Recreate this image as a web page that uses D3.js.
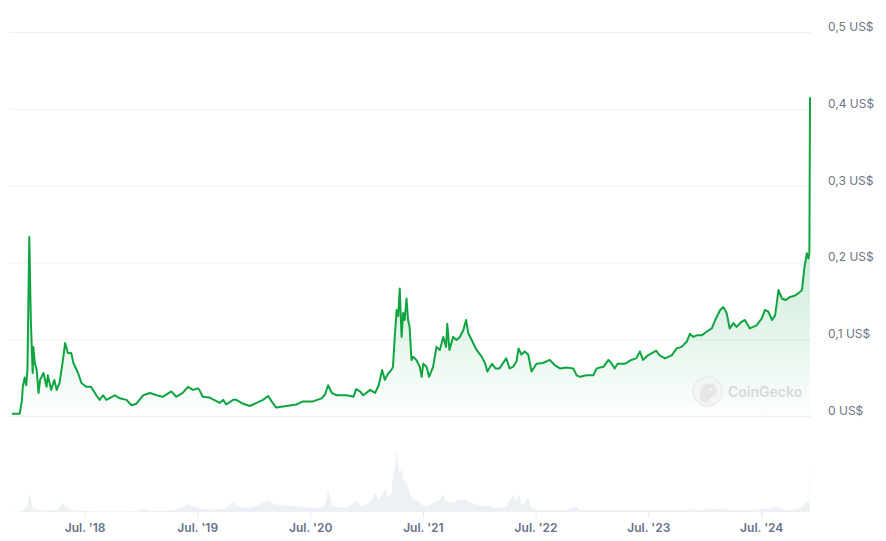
<!DOCTYPE html>
<html><head><meta charset="utf-8">
<script src="https://cdn.jsdelivr.net/npm/d3@7"></script>
<style>html,body{margin:0;padding:0;background:#fff;}svg{display:block;font-family:Inter,"Noto Sans",sans-serif;}</style>
</head><body><svg id="chart" width="886" height="541"></svg>
<script>
const dates = [
"2017-11-08","2017-12-03","2017-12-10","2017-12-13","2017-12-19","2017-12-24","2017-12-28",
"2018-01-03","2018-01-08","2018-01-14","2018-01-16","2018-01-21","2018-01-27","2018-02-02","2018-02-07","2018-02-18","2018-02-28",
"2018-03-04","2018-03-15","2018-03-25","2018-04-02","2018-04-11","2018-04-22","2018-04-29","2018-05-08","2018-05-19","2018-05-26",
"2018-06-10","2018-06-21","2018-07-06","2018-07-22","2018-08-08","2018-08-19","2018-08-30","2018-09-10","2018-10-07","2018-10-23",
"2018-11-14","2018-11-30","2018-12-16",
"2019-01-07","2019-01-29","2019-02-20","2019-03-11","2019-04-08","2019-04-24","2019-05-15","2019-06-01","2019-06-17","2019-07-03",
"2019-07-08","2019-07-19","2019-08-10","2019-09-12","2019-09-23","2019-10-03","2019-10-25","2019-11-05","2019-11-21","2019-12-18",
"2020-01-09","2020-01-30","2020-02-16","2020-02-27","2020-03-13","2020-04-15","2020-05-17","2020-06-08","2020-07-10","2020-08-07",
"2020-08-18","2020-08-28","2020-09-09","2020-09-25","2020-10-27","2020-11-18","2020-11-27","2020-12-09","2020-12-20",
"2021-01-11","2021-01-27","2021-02-08","2021-02-19","2021-02-28","2021-03-10","2021-03-21","2021-03-26","2021-04-01","2021-04-07",
"2021-04-12","2021-04-17","2021-04-23","2021-04-28","2021-05-03","2021-05-09","2021-05-14","2021-05-19","2021-05-25","2021-05-30",
"2021-06-10","2021-06-21","2021-06-27","2021-07-02","2021-07-13","2021-07-21","2021-08-03","2021-08-14","2021-08-25","2021-09-05",
"2021-09-14","2021-09-18","2021-09-25","2021-10-07","2021-10-18","2021-10-29","2021-11-09","2021-11-18","2021-11-25","2021-12-06",
"2021-12-22",
"2022-01-08","2022-01-19","2022-01-26","2022-02-10","2022-02-21","2022-03-06","2022-03-28","2022-04-08","2022-04-19","2022-04-30",
"2022-05-07","2022-05-16","2022-05-27","2022-06-07","2022-06-18","2022-07-04","2022-07-25","2022-08-16","2022-09-02","2022-09-18",
"2022-10-10","2022-10-31","2022-11-11","2022-11-22","2022-12-13",
"2023-01-04","2023-01-15","2023-02-06","2023-02-22","2023-03-03","2023-03-14","2023-03-24","2023-04-16","2023-05-07","2023-05-23",
"2023-06-04","2023-06-14","2023-06-30","2023-07-27","2023-08-07","2023-08-24","2023-09-15","2023-10-01","2023-10-17","2023-11-03",
"2023-11-13","2023-11-24","2023-12-05","2023-12-21",
"2024-01-07","2024-01-23","2024-02-03","2024-02-19","2024-02-29","2024-03-11","2024-03-21","2024-04-02","2024-04-12","2024-04-29",
"2024-05-09","2024-05-25","2024-06-16","2024-07-03","2024-07-13","2024-07-24","2024-08-05","2024-08-15","2024-08-26","2024-09-06",
"2024-09-17","2024-10-03","2024-10-19","2024-10-30","2024-11-10","2024-11-18","2024-11-26","2024-12-01","2024-12-04","2024-12-06"
];
const prices = [
0.003,0.003,0.02,0.038,0.05,0.04,0.06,
0.233,0.125,0.056,0.09,0.069,0.06,0.03,0.047,0.056,0.038,
0.053,0.034,0.047,0.034,0.043,0.073,0.095,0.082,0.082,0.069,
0.056,0.043,0.038,0.038,0.027,0.021,0.027,0.021,0.027,0.023,
0.021,0.014,0.016,
0.027,0.030,0.027,0.025,0.032,0.025,0.030,0.038,0.034,0.036,
0.034,0.025,0.024,0.017,0.021,0.015,0.021,0.021,0.017,0.013,
0.017,0.021,0.026,0.019,0.011,0.013,0.015,0.019,0.019,0.023,
0.028,0.040,0.030,0.027,0.027,0.025,0.035,0.032,0.027,
0.034,0.030,0.040,0.060,0.047,0.055,0.060,0.064,0.103,0.138,
0.130,0.166,0.103,0.134,0.125,0.153,0.125,0.116,0.073,0.077,
0.073,0.064,0.051,0.068,0.064,0.051,0.064,0.090,0.086,0.103,
0.090,0.120,0.086,0.103,0.099,0.103,0.112,0.125,0.108,0.099,
0.086,
0.077,0.068,0.058,0.068,0.062,0.062,0.075,0.062,0.064,0.071,
0.088,0.080,0.084,0.080,0.058,0.068,0.069,0.073,0.066,0.062,
0.063,0.062,0.053,0.051,0.053,
0.053,0.062,0.064,0.073,0.069,0.062,0.068,0.068,0.073,0.075,
0.084,0.073,0.079,0.085,0.079,0.075,0.079,0.088,0.090,0.097,
0.107,0.103,0.105,0.105,
0.110,0.114,0.125,0.138,0.142,0.134,0.114,0.121,0.116,0.123,
0.125,0.114,0.118,0.127,0.138,0.136,0.125,0.131,0.164,0.153,
0.151,0.155,0.157,0.160,0.164,0.194,0.212,0.205,0.212,0.415
];
const volumes = [
0.05,0.1,0.2,0.3,0.5,0.6,0.8,
3.0,2.0,0.7,0.6,0.5,0.4,0.3,0.3,0.3,0.2,
0.3,0.3,0.3,0.4,0.7,1.5,1.0,0.6,0.4,0.3,
0.2,0.2,0.15,0.15,0.1,0.1,0.1,0.1,0.1,0.1,
0.1,0.1,0.2,
0.5,0.2,0.2,0.2,0.3,0.4,0.8,1.2,0.9,0.8,
0.6,0.5,0.4,0.5,0.5,0.6,1.6,1.0,0.8,0.7,
1.0,1.5,1.9,1.5,1.2,1.0,1.0,0.8,0.6,0.7,
1.2,3.5,1.0,0.8,0.7,1.5,1.9,1.0,0.9,
1.6,3.0,2.0,2.8,3.8,2.5,3.0,5.7,7.0,10.0,
7.9,6.2,7.0,5.0,5.2,4.5,4.0,3.0,2.4,2.0,
1.9,1.6,1.2,1.0,0.9,1.0,1.5,1.8,1.9,3.0,
1.6,2.0,1.5,1.6,1.8,1.9,1.9,2.1,1.6,1.4,
1.2,
1.0,0.9,1.0,0.8,0.7,0.7,0.8,1.8,2.7,1.5,
3.2,1.2,1.5,2.4,0.6,0.4,0.3,0.3,0.3,0.3,
0.4,0.6,0.9,0.3,0.3,
0.3,0.4,0.3,0.3,0.3,0.3,0.3,0.4,0.3,0.3,
0.3,0.3,0.4,0.3,0.3,0.3,0.3,0.3,0.3,0.4,
0.4,0.4,0.3,0.3,
0.4,0.5,0.4,0.5,0.6,0.4,0.3,0.3,0.3,0.4,
0.3,0.3,0.4,0.5,0.6,0.5,0.7,1.0,0.8,0.4,
0.4,0.3,0.4,0.5,0.9,1.3,1.9,1.5,1.6,8.6
];
const priceTicks = [0, 0.1, 0.2, 0.3, 0.4, 0.5];
const xTickDates = ["2018-07-01","2019-07-01","2020-07-01","2021-07-01","2022-07-01","2023-07-01","2024-07-01"];
const watermarkText = "CoinGecko";

const parse = d3.timeParse("%Y-%m-%d");
const data = dates.map((d, i) => ({date: parse(d), price: prices[i], volume: volumes[i]}));

const x = d3.scaleTime().domain(d3.extent(data, d => d.date)).range([12, 810]);
const y = d3.scaleLinear().domain([0, 0.5]).range([416, 32]);
const yv = d3.scaleLinear().domain([0, 10]).range([512, 450]);

const svg = d3.select("#chart");
svg.append("rect").attr("width", 886).attr("height", 541).attr("fill", "#fff");

const locale = d3.formatLocale({decimal: ",", thousands: ".", grouping: [3], currency: ["", " US$"]});
const f1 = locale.format(".1f");
const fmtPrice = d => (d === 0 ? "0" : f1(d)) + " US$";

// gradient
const defs = svg.append("defs");
const grad = defs.append("linearGradient").attr("id", "pg")
  .attr("gradientUnits", "userSpaceOnUse")
  .attr("x1", 0).attr("x2", 0).attr("y1", y(0.2)).attr("y2", y(0));
grad.append("stop").attr("offset", 0).attr("stop-color", "#16a34a").attr("stop-opacity", 0.2);
grad.append("stop").attr("offset", 1).attr("stop-color", "#16a34a").attr("stop-opacity", 0.01);

// grid + y labels
const gy = svg.append("g").attr("transform", "translate(10,0)")
  .call(d3.axisRight(y).tickValues(priceTicks).tickSize(801).tickPadding(17).tickFormat(fmtPrice));
gy.select(".domain").remove();
gy.selectAll(".tick line").attr("stroke", "#f0f0f2").attr("stroke-width", 1);
gy.selectAll(".tick text").attr("fill", "#6d7585").attr("font-size", 12)
  .attr("font-family", "Inter, 'Noto Sans', sans-serif").attr("dy", "-0.12em");

// volume
const vArea = d3.area().x(d => x(d.date)).y0(yv(0)).y1(d => yv(d.volume));
svg.append("path").datum(data).attr("d", vArea).attr("fill", "#edf0f4");

// x axis
const gx = svg.append("g").attr("transform", `translate(0,${yv(0)})`)
  .call(d3.axisBottom(x).tickValues(xTickDates.map(parse)).tickSize(6).tickPadding(5.5)
    .tickFormat(d3.timeFormat("%b. '%y")));
gx.select(".domain").remove();
gx.selectAll(".tick line").attr("stroke", "#e6e9ed");
gx.selectAll(".tick text").attr("fill", "#66718a").attr("font-size", 12).attr("font-weight", 600)
  .attr("font-family", "Inter, 'Noto Sans', sans-serif");

// price area
const pArea = d3.area().x(d => x(d.date)).y0(y(0)).y1(d => y(d.price));
svg.append("path").datum(data).attr("d", pArea).attr("fill", "url(#pg)");

// watermark
const wm = svg.append("g").attr("transform", "translate(707.5,391.5)");
wm.append("circle").attr("r", 14.5).attr("fill", "#f3f4f4").attr("stroke", "#e8e9ea").attr("stroke-width", 1.2);
wm.append("path").attr("d", "M-7,9 C-9,0 -6,-8 2,-8 C8,-8 10,-3 9,2 C8,5 4,5 2,6 C1,8 1,10 0,12 Z").attr("fill", "#e4e6e7");
wm.append("circle").attr("cx", 3).attr("cy", -2).attr("r", 1.6).attr("fill", "#f7f7f7");
svg.append("text").attr("x", 728).attr("y", 397).attr("font-size", 14).attr("font-weight", 600)
  .attr("fill", "#d7d9db").attr("font-family", "Inter, 'Noto Sans', sans-serif").text(watermarkText);

// price line
const line = d3.line().x(d => x(d.date)).y(d => y(d.price));
svg.append("path").datum(data).attr("d", line).attr("fill", "none")
  .attr("stroke", "#0ea541").attr("stroke-width", 2).attr("stroke-linejoin", "round");
</script></body></html>
